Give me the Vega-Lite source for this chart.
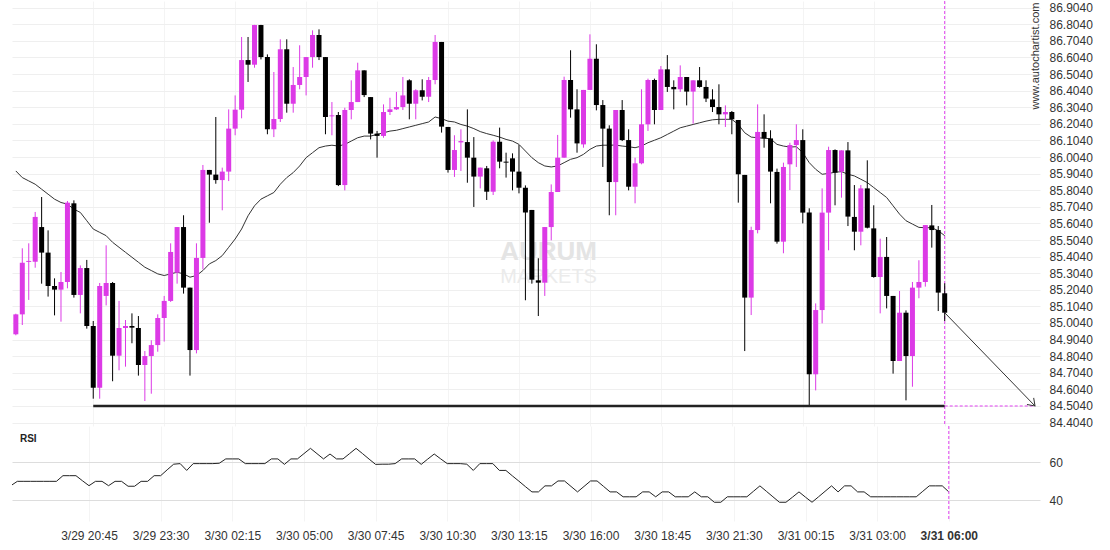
{
  "$schema": "https://vega.github.io/schema/vega-lite/v6.json",
  "padding": {"left": 12, "top": 0, "right": 5, "bottom": 0},
  "background": "white",
  "spacing": 0,
  "bounds": "flush",
  "config": {
    "view": {"stroke": null},
    "font": "Liberation Sans",
    "axis": {"labelFont": "Liberation Sans", "labelFontSize": 12, "labelColor": "#333333", "domain": false, "ticks": false, "title": null}
  },
  "datasets": {
    "candles": [
      {"i":0,"o":84.936,"h":85.06,"l":84.93,"c":85.056,"ma":85.92,"rsi":47.6},
      {"i":1,"o":85.056,"h":85.454,"l":84.992,"c":85.367,"ma":85.88,"rsi":49.9},
      {"i":2,"o":85.372,"h":85.484,"l":85.143,"c":85.378,"ma":85.86,"rsi":49.9},
      {"i":3,"o":85.373,"h":85.673,"l":85.337,"c":85.643,"ma":85.84,"rsi":49.9},
      {"i":4,"o":85.582,"h":85.763,"l":85.241,"c":85.428,"ma":85.81,"rsi":49.9},
      {"i":5,"o":85.428,"h":85.562,"l":85.163,"c":85.227,"ma":85.78,"rsi":49.9},
      {"i":6,"o":85.227,"h":85.273,"l":85.05,"c":85.205,"ma":85.75,"rsi":49.9},
      {"i":7,"o":85.205,"h":85.311,"l":85.012,"c":85.251,"ma":85.73,"rsi":49.9},
      {"i":8,"o":85.251,"h":85.739,"l":85.213,"c":85.729,"ma":85.72,"rsi":52.9},
      {"i":9,"o":85.725,"h":85.743,"l":85.157,"c":85.173,"ma":85.69,"rsi":52.9},
      {"i":10,"o":85.173,"h":85.351,"l":85.062,"c":85.335,"ma":85.67,"rsi":52.9},
      {"i":11,"o":85.335,"h":85.384,"l":84.97,"c":84.986,"ma":85.62,"rsi":50.2},
      {"i":12,"o":84.986,"h":85.016,"l":84.548,"c":84.614,"ma":85.57,"rsi":47.6},
      {"i":13,"o":84.614,"h":85.245,"l":84.548,"c":85.227,"ma":85.55,"rsi":49.9},
      {"i":14,"o":85.167,"h":85.472,"l":85.11,"c":85.245,"ma":85.53,"rsi":49.9},
      {"i":15,"o":85.245,"h":85.251,"l":84.653,"c":84.807,"ma":85.49,"rsi":47.6},
      {"i":16,"o":84.807,"h":85.137,"l":84.719,"c":84.974,"ma":85.46,"rsi":49.9},
      {"i":17,"o":84.974,"h":85.022,"l":84.741,"c":84.986,"ma":85.43,"rsi":49.9},
      {"i":18,"o":84.986,"h":85.062,"l":84.882,"c":84.976,"ma":85.4,"rsi":47.3},
      {"i":19,"o":84.974,"h":85.046,"l":84.687,"c":84.751,"ma":85.37,"rsi":47.3},
      {"i":20,"o":84.751,"h":84.835,"l":84.534,"c":84.805,"ma":85.34,"rsi":49.9},
      {"i":21,"o":84.805,"h":84.9,"l":84.578,"c":84.871,"ma":85.32,"rsi":49.9},
      {"i":22,"o":84.871,"h":85.056,"l":84.831,"c":85.034,"ma":85.3,"rsi":52.9},
      {"i":23,"o":85.034,"h":85.167,"l":84.892,"c":85.137,"ma":85.29,"rsi":52.9},
      {"i":24,"o":85.137,"h":85.484,"l":85.131,"c":85.432,"ma":85.3,"rsi":56.0},
      {"i":25,"o":85.307,"h":85.582,"l":85.241,"c":85.582,"ma":85.31,"rsi":59.0},
      {"i":26,"o":85.582,"h":85.653,"l":85.181,"c":85.217,"ma":85.3,"rsi":59.3},
      {"i":27,"o":85.217,"h":85.217,"l":84.687,"c":84.841,"ma":85.28,"rsi":55.7},
      {"i":28,"o":84.841,"h":85.484,"l":84.821,"c":85.396,"ma":85.29,"rsi":59.3},
      {"i":29,"o":85.396,"h":85.956,"l":85.327,"c":85.926,"ma":85.32,"rsi":59.3},
      {"i":30,"o":85.926,"h":85.926,"l":85.608,"c":85.898,"ma":85.36,"rsi":59.3},
      {"i":31,"o":85.898,"h":86.245,"l":85.843,"c":85.865,"ma":85.38,"rsi":59.3},
      {"i":32,"o":85.865,"h":85.94,"l":85.683,"c":85.916,"ma":85.41,"rsi":59.5},
      {"i":33,"o":85.916,"h":86.291,"l":85.859,"c":86.175,"ma":85.46,"rsi":61.8},
      {"i":34,"o":86.175,"h":86.375,"l":86.135,"c":86.289,"ma":85.51,"rsi":61.8},
      {"i":35,"o":86.289,"h":86.727,"l":86.237,"c":86.588,"ma":85.57,"rsi":61.8},
      {"i":36,"o":86.588,"h":86.727,"l":86.456,"c":86.56,"ma":85.65,"rsi":59.3},
      {"i":37,"o":86.56,"h":86.8,"l":86.542,"c":86.799,"ma":85.71,"rsi":59.3},
      {"i":38,"o":86.799,"h":86.8,"l":86.592,"c":86.606,"ma":85.75,"rsi":59.3},
      {"i":39,"o":86.606,"h":86.622,"l":86.141,"c":86.171,"ma":85.77,"rsi":59.3},
      {"i":40,"o":86.171,"h":86.516,"l":86.124,"c":86.233,"ma":85.79,"rsi":61.8},
      {"i":41,"o":86.233,"h":86.713,"l":86.215,"c":86.653,"ma":85.84,"rsi":61.8},
      {"i":42,"o":86.653,"h":86.713,"l":86.271,"c":86.325,"ma":85.88,"rsi":58.9},
      {"i":43,"o":86.325,"h":86.546,"l":86.271,"c":86.438,"ma":85.91,"rsi":61.8},
      {"i":44,"o":86.438,"h":86.677,"l":86.412,"c":86.486,"ma":85.95,"rsi":61.8},
      {"i":45,"o":86.486,"h":86.606,"l":86.375,"c":86.606,"ma":86.0,"rsi":64.6},
      {"i":46,"o":86.606,"h":86.767,"l":86.542,"c":86.739,"ma":86.03,"rsi":67.4},
      {"i":47,"o":86.739,"h":86.773,"l":86.588,"c":86.606,"ma":86.06,"rsi":64.6},
      {"i":48,"o":86.606,"h":86.606,"l":86.141,"c":86.245,"ma":86.07,"rsi":61.8},
      {"i":49,"o":86.249,"h":86.335,"l":86.135,"c":86.255,"ma":86.075,"rsi":64.4},
      {"i":50,"o":86.257,"h":86.275,"l":85.829,"c":85.835,"ma":86.07,"rsi":61.8},
      {"i":51,"o":85.835,"h":86.301,"l":85.803,"c":86.287,"ma":86.08,"rsi":61.8},
      {"i":52,"o":86.287,"h":86.466,"l":86.231,"c":86.335,"ma":86.1,"rsi":64.6},
      {"i":53,"o":86.335,"h":86.572,"l":86.335,"c":86.526,"ma":86.12,"rsi":67.4},
      {"i":54,"o":86.526,"h":86.526,"l":86.365,"c":86.377,"ma":86.13,"rsi":64.6},
      {"i":55,"o":86.365,"h":86.365,"l":86.11,"c":86.145,"ma":86.13,"rsi":61.7},
      {"i":56,"o":86.145,"h":86.161,"l":86.0,"c":86.131,"ma":86.14,"rsi":58.9},
      {"i":57,"o":86.131,"h":86.321,"l":86.12,"c":86.275,"ma":86.15,"rsi":59.0},
      {"i":58,"o":86.275,"h":86.361,"l":86.257,"c":86.291,"ma":86.16,"rsi":59.0},
      {"i":59,"o":86.291,"h":86.396,"l":86.287,"c":86.305,"ma":86.165,"rsi":59.3},
      {"i":60,"o":86.305,"h":86.486,"l":86.287,"c":86.375,"ma":86.175,"rsi":61.8},
      {"i":61,"o":86.466,"h":86.472,"l":86.231,"c":86.325,"ma":86.185,"rsi":61.8},
      {"i":62,"o":86.325,"h":86.412,"l":86.231,"c":86.406,"ma":86.195,"rsi":61.8},
      {"i":63,"o":86.406,"h":86.472,"l":86.345,"c":86.367,"ma":86.205,"rsi":58.9},
      {"i":64,"o":86.367,"h":86.486,"l":86.335,"c":86.468,"ma":86.215,"rsi":61.7},
      {"i":65,"o":86.468,"h":86.739,"l":86.442,"c":86.697,"ma":86.245,"rsi":64.4},
      {"i":66,"o":86.697,"h":86.697,"l":86.151,"c":86.187,"ma":86.235,"rsi":61.8},
      {"i":67,"o":86.185,"h":86.185,"l":85.91,"c":85.926,"ma":86.22,"rsi":59.3},
      {"i":68,"o":85.926,"h":86.135,"l":85.884,"c":86.046,"ma":86.215,"rsi":59.3},
      {"i":69,"o":86.092,"h":86.171,"l":85.92,"c":86.1,"ma":86.2,"rsi":59.3},
      {"i":70,"o":86.094,"h":86.291,"l":85.849,"c":86.0,"ma":86.19,"rsi":59.0},
      {"i":71,"o":86.0,"h":86.124,"l":85.703,"c":85.886,"ma":86.175,"rsi":55.7},
      {"i":72,"o":85.886,"h":85.94,"l":85.815,"c":85.94,"ma":86.157,"rsi":59.3},
      {"i":73,"o":85.936,"h":85.95,"l":85.745,"c":85.795,"ma":86.145,"rsi":59.3},
      {"i":74,"o":85.795,"h":86.104,"l":85.775,"c":86.096,"ma":86.135,"rsi":59.3},
      {"i":75,"o":86.096,"h":86.181,"l":85.936,"c":85.976,"ma":86.124,"rsi":55.7},
      {"i":76,"o":85.976,"h":86.03,"l":85.88,"c":85.97,"ma":86.11,"rsi":55.7},
      {"i":77,"o":85.996,"h":86.026,"l":85.803,"c":85.916,"ma":86.1,"rsi":52.8},
      {"i":78,"o":85.916,"h":86.076,"l":85.785,"c":85.819,"ma":86.08,"rsi":50.0},
      {"i":79,"o":85.819,"h":85.833,"l":85.141,"c":85.669,"ma":86.04,"rsi":47.1},
      {"i":80,"o":85.685,"h":85.685,"l":85.241,"c":85.265,"ma":86.0,"rsi":44.3},
      {"i":81,"o":85.261,"h":85.394,"l":85.046,"c":85.247,"ma":85.97,"rsi":44.3},
      {"i":82,"o":85.247,"h":85.582,"l":85.167,"c":85.582,"ma":85.95,"rsi":47.5},
      {"i":83,"o":85.582,"h":85.839,"l":85.502,"c":85.793,"ma":85.944,"rsi":47.5},
      {"i":84,"o":85.793,"h":86.137,"l":85.793,"c":86.0,"ma":85.95,"rsi":50.1},
      {"i":85,"o":86.0,"h":86.488,"l":86.0,"c":86.468,"ma":85.97,"rsi":50.1},
      {"i":86,"o":86.468,"h":86.647,"l":86.241,"c":86.291,"ma":85.99,"rsi":47.2},
      {"i":87,"o":86.291,"h":86.412,"l":86.03,"c":86.086,"ma":86.0,"rsi":44.3},
      {"i":88,"o":86.08,"h":86.408,"l":86.06,"c":86.408,"ma":86.02,"rsi":47.2},
      {"i":89,"o":86.408,"h":86.743,"l":86.408,"c":86.596,"ma":86.05,"rsi":50.1},
      {"i":90,"o":86.596,"h":86.683,"l":86.285,"c":86.317,"ma":86.07,"rsi":50.1},
      {"i":91,"o":86.317,"h":86.347,"l":85.944,"c":86.175,"ma":86.075,"rsi":47.2},
      {"i":92,"o":86.175,"h":86.195,"l":85.653,"c":85.853,"ma":86.075,"rsi":44.3},
      {"i":93,"o":85.853,"h":86.287,"l":85.653,"c":86.287,"ma":86.076,"rsi":44.3},
      {"i":94,"o":86.287,"h":86.347,"l":86.1,"c":86.106,"ma":86.07,"rsi":41.7},
      {"i":95,"o":86.106,"h":86.171,"l":85.803,"c":85.825,"ma":86.066,"rsi":41.7},
      {"i":96,"o":85.825,"h":86.0,"l":85.725,"c":85.966,"ma":86.06,"rsi":41.7},
      {"i":97,"o":85.966,"h":86.412,"l":85.96,"c":86.201,"ma":86.07,"rsi":44.3},
      {"i":98,"o":86.201,"h":86.476,"l":86.161,"c":86.468,"ma":86.09,"rsi":44.3},
      {"i":99,"o":86.468,"h":86.476,"l":86.201,"c":86.287,"ma":86.105,"rsi":41.7},
      {"i":100,"o":86.287,"h":86.552,"l":86.287,"c":86.532,"ma":86.12,"rsi":44.3},
      {"i":101,"o":86.532,"h":86.618,"l":86.396,"c":86.426,"ma":86.14,"rsi":44.3},
      {"i":102,"o":86.426,"h":86.466,"l":86.291,"c":86.412,"ma":86.16,"rsi":41.7},
      {"i":103,"o":86.412,"h":86.556,"l":86.396,"c":86.486,"ma":86.18,"rsi":41.7},
      {"i":104,"o":86.486,"h":86.486,"l":86.315,"c":86.398,"ma":86.19,"rsi":41.7},
      {"i":105,"o":86.398,"h":86.466,"l":86.205,"c":86.466,"ma":86.2,"rsi":44.3},
      {"i":106,"o":86.466,"h":86.546,"l":86.422,"c":86.426,"ma":86.21,"rsi":41.7},
      {"i":107,"o":86.426,"h":86.466,"l":86.335,"c":86.356,"ma":86.22,"rsi":41.7},
      {"i":108,"o":86.351,"h":86.412,"l":86.275,"c":86.305,"ma":86.228,"rsi":38.8},
      {"i":109,"o":86.305,"h":86.442,"l":86.201,"c":86.261,"ma":86.231,"rsi":38.8},
      {"i":110,"o":86.261,"h":86.315,"l":86.185,"c":86.275,"ma":86.231,"rsi":41.7},
      {"i":111,"o":86.275,"h":86.281,"l":86.141,"c":86.231,"ma":86.231,"rsi":41.7},
      {"i":112,"o":86.227,"h":86.227,"l":85.729,"c":85.9,"ma":86.2,"rsi":41.7},
      {"i":113,"o":85.896,"h":85.896,"l":84.835,"c":85.157,"ma":86.15,"rsi":41.7},
      {"i":114,"o":85.157,"h":85.584,"l":85.052,"c":85.564,"ma":86.124,"rsi":44.6},
      {"i":115,"o":85.564,"h":86.321,"l":85.544,"c":86.155,"ma":86.12,"rsi":47.5},
      {"i":116,"o":86.155,"h":86.261,"l":86.06,"c":86.116,"ma":86.117,"rsi":44.6},
      {"i":117,"o":86.116,"h":86.165,"l":85.725,"c":85.916,"ma":86.114,"rsi":41.7},
      {"i":118,"o":85.914,"h":85.934,"l":85.482,"c":85.494,"ma":86.08,"rsi":38.8},
      {"i":119,"o":85.494,"h":85.97,"l":85.424,"c":85.944,"ma":86.07,"rsi":38.8},
      {"i":120,"o":85.96,"h":86.09,"l":85.805,"c":86.076,"ma":86.064,"rsi":41.5},
      {"i":121,"o":86.076,"h":86.201,"l":85.944,"c":86.106,"ma":86.066,"rsi":44.3},
      {"i":122,"o":86.106,"h":86.171,"l":85.604,"c":85.669,"ma":86.03,"rsi":41.5},
      {"i":123,"o":85.669,"h":85.695,"l":84.504,"c":84.695,"ma":85.97,"rsi":38.8},
      {"i":124,"o":84.695,"h":85.122,"l":84.598,"c":85.082,"ma":85.93,"rsi":41.7},
      {"i":125,"o":85.082,"h":85.815,"l":85.002,"c":85.669,"ma":85.9,"rsi":44.6},
      {"i":126,"o":85.669,"h":86.066,"l":85.442,"c":86.046,"ma":85.905,"rsi":47.5},
      {"i":127,"o":86.046,"h":86.05,"l":85.713,"c":85.91,"ma":85.912,"rsi":44.3},
      {"i":128,"o":85.916,"h":86.044,"l":85.759,"c":86.044,"ma":85.916,"rsi":47.5},
      {"i":129,"o":86.044,"h":86.094,"l":85.588,"c":85.645,"ma":85.9,"rsi":47.5},
      {"i":130,"o":85.643,"h":85.835,"l":85.442,"c":85.554,"ma":85.89,"rsi":44.3},
      {"i":131,"o":85.554,"h":85.835,"l":85.472,"c":85.815,"ma":85.87,"rsi":44.3},
      {"i":132,"o":85.815,"h":85.984,"l":85.574,"c":85.578,"ma":85.85,"rsi":41.7},
      {"i":133,"o":85.574,"h":85.713,"l":85.277,"c":85.281,"ma":85.82,"rsi":41.7},
      {"i":134,"o":85.281,"h":85.512,"l":85.062,"c":85.402,"ma":85.79,"rsi":41.7},
      {"i":135,"o":85.402,"h":85.522,"l":85.092,"c":85.167,"ma":85.76,"rsi":41.7},
      {"i":136,"o":85.167,"h":85.167,"l":84.699,"c":84.775,"ma":85.71,"rsi":41.7},
      {"i":137,"o":84.775,"h":85.197,"l":84.775,"c":85.066,"ma":85.66,"rsi":41.7},
      {"i":138,"o":85.066,"h":85.08,"l":84.538,"c":84.805,"ma":85.62,"rsi":41.7},
      {"i":139,"o":84.805,"h":85.251,"l":84.62,"c":85.217,"ma":85.6,"rsi":41.7},
      {"i":140,"o":85.217,"h":85.382,"l":85.153,"c":85.251,"ma":85.58,"rsi":44.6},
      {"i":141,"o":85.251,"h":85.594,"l":85.223,"c":85.594,"ma":85.578,"rsi":47.5},
      {"i":142,"o":85.592,"h":85.715,"l":85.458,"c":85.564,"ma":85.578,"rsi":47.5},
      {"i":143,"o":85.564,"h":85.588,"l":85.076,"c":85.187,"ma":85.56,"rsi":47.5},
      {"i":144,"o":85.183,"h":85.243,"l":85.016,"c":85.066,"ma":85.53,"rsi":44.3}
    ],
    "support": [{"i":12,"p":84.504},{"i":144,"p":84.504}],
    "projection": [{"i":144,"p":84.504},{"i":158,"p":84.504}],
    "arrow": [{"i":144,"p":85.066},{"i":158,"p":84.504}],
    "now": [{"i":144}],
    "notes": [
      {"k":"wm1","t":"AURUM","i":75.1,"p":85.43},
      {"k":"wm2","t":"MARKETS","i":75.1,"p":85.28},
      {"k":"site","t":"www.autochartist.com","i":158.2,"p":86.612}
    ],
    "rsinote": [{"t":"RSI","i":1.4,"r":72.4}]
  },
  "vconcat": [
    {
      "width": 1028,
      "height": 425,
      "data": {"name": "candles"},
      "encoding": {
        "x": {
          "field": "i", "type": "quantitative",
          "scale": {"domain": [0.18, 158], "nice": false, "zero": false},
          "axis": {"values": [12,23,34,45,56,67,78,89,100,111,122,133,144], "tickCount": 40, "labels": false, "grid": true, "gridColor": "#f4f4f4"}
        }
      },
      "layer": [
        {
          "data": {"name": "notes"},
          "transform": [{"filter": "datum.k == 'wm1'"}],
          "mark": {"type": "text", "fontSize": 26, "fontWeight": "bold", "color": "#e4e4e4", "align": "left", "baseline": "middle"},
          "encoding": {"y": {"field": "p", "type": "quantitative"}, "text": {"field": "t", "type": "nominal"}}
        },
        {
          "data": {"name": "notes"},
          "transform": [{"filter": "datum.k == 'wm2'"}],
          "mark": {"type": "text", "fontSize": 20, "fontWeight": "normal", "color": "#ebebeb", "align": "left", "baseline": "middle"},
          "encoding": {"y": {"field": "p", "type": "quantitative"}, "text": {"field": "t", "type": "nominal"}}
        },
        {
          "mark": {"type": "line", "color": "#333333", "strokeWidth": 1, "clip": true},
          "encoding": {
            "y": {
              "field": "ma", "type": "quantitative",
              "scale": {"domain": [84.3835, 86.9438], "nice": false, "zero": false},
              "axis": {"orient": "right", "values": [84.404,84.504,84.604,84.704,84.804,84.904,85.004,85.104,85.204,85.304,85.404,85.504,85.604,85.704,85.804,85.904,86.004,86.104,86.204,86.304,86.404,86.504,86.604,86.704,86.804,86.904], "tickCount": 40, "format": ".4f", "labelPadding": 9, "labelOverlap": false, "labelFlush": false, "grid": true, "gridColor": "#efefef"}
            }
          }
        },
        {
          "data": {"name": "now"},
          "mark": {"type": "rule", "color": "#e040f0", "strokeWidth": 1, "strokeDash": [3, 2]},
          "encoding": {}
        },
        {
          "mark": {"type": "rule", "strokeWidth": 1, "clip": true},
          "encoding": {
            "y": {"field": "l", "type": "quantitative"},
            "y2": {"field": "h"},
            "color": {"condition": {"test": "datum.c >= datum.o", "value": "#dc3ae6"}, "value": "#000000"}
          }
        },
        {
          "mark": {"type": "bar", "width": 5, "clip": true},
          "encoding": {
            "y": {"field": "o", "type": "quantitative"},
            "y2": {"field": "c"},
            "color": {"condition": {"test": "datum.c >= datum.o", "value": "#dc3ae6"}, "value": "#000000"}
          }
        },
        {
          "data": {"name": "support"},
          "mark": {"type": "line", "color": "#222222", "strokeWidth": 2.5},
          "encoding": {"y": {"field": "p", "type": "quantitative"}}
        },
        {
          "data": {"name": "projection"},
          "mark": {"type": "line", "color": "#e040f0", "strokeWidth": 1, "strokeDash": [3, 2]},
          "encoding": {"y": {"field": "p", "type": "quantitative"}}
        },
        {
          "data": {"name": "arrow"},
          "mark": {"type": "line", "color": "#333333", "strokeWidth": 1},
          "encoding": {"y": {"field": "p", "type": "quantitative"}}
        },
        {
          "data": {"name": "arrow"},
          "transform": [{"filter": "datum.i == 158"}],
          "mark": {"type": "point", "shape": "M -1 -0.7 L 0 0 L -1 0.7", "filled": false, "stroke": "#333333", "strokeWidth": 1, "size": 180, "angle": 45.6, "opacity": 1},
          "encoding": {"y": {"field": "p", "type": "quantitative"}}
        },
        {
          "data": {"name": "notes"},
          "transform": [{"filter": "datum.k == 'site'"}],
          "mark": {"type": "text", "angle": 270, "fontSize": 11, "color": "#333333", "align": "center", "baseline": "middle"},
          "encoding": {"y": {"field": "p", "type": "quantitative"}, "text": {"field": "t", "type": "nominal"}}
        }
      ]
    },
    {
      "width": 1028,
      "height": 95,
      "data": {"name": "candles"},
      "encoding": {
        "x": {
          "field": "i", "type": "quantitative",
          "scale": {"domain": [0.18, 158], "nice": false, "zero": false},
          "axis": {
            "values": [12,23,34,45,56,67,78,89,100,111,122,133,144],
            "tickCount": 40,
            "labelExpr": "['3/29 20:45','3/29 23:30','3/30 02:15','3/30 05:00','3/30 07:45','3/30 10:30','3/30 13:15','3/30 16:00','3/30 18:45','3/30 21:30','3/31 00:15','3/31 03:00','3/31 06:00'][round((datum.value-12)/11)]",
            "labelFontWeight": {"condition": {"test": "datum.value == 144", "value": "bold"}, "value": "normal"},
            "labelPadding": 9, "labelOverlap": false, "labelFlush": false,
            "grid": true, "gridColor": "#f4f4f4"
          }
        }
      },
      "layer": [
        {
          "mark": {"type": "line", "color": "#222222", "strokeWidth": 1, "clip": true},
          "encoding": {
            "y": {
              "field": "rsi", "type": "quantitative",
              "scale": {"domain": [28.86, 79.26], "nice": false, "zero": false},
              "axis": {"orient": "right", "values": [40, 60], "format": "d", "labelPadding": 9, "grid": true, "gridColor": "#dddddd"}
            }
          }
        },
        {
          "data": {"name": "now"},
          "mark": {"type": "rule", "color": "#e040f0", "strokeWidth": 1, "strokeDash": [3, 2]},
          "encoding": {}
        },
        {
          "data": {"name": "rsinote"},
          "mark": {"type": "text", "fontSize": 10, "fontWeight": "bold", "color": "#222222", "align": "left", "baseline": "middle"},
          "encoding": {"y": {"field": "r", "type": "quantitative"}, "text": {"field": "t", "type": "nominal"}}
        }
      ]
    }
  ]
}
